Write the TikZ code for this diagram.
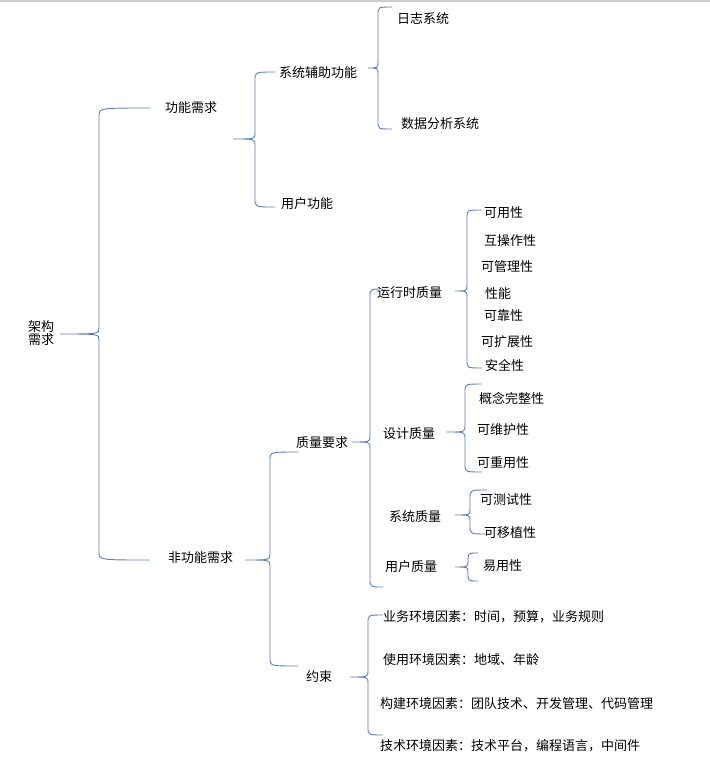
\documentclass[tikz,border=0pt]{standalone}
\usepackage{fontspec}
\setmainfont{Noto Sans CJK SC}
\definecolor{brc}{HTML}{5B7DB8}
\newcommand\mybrace[6]{% xtip ytip xv ytop ybot xend
  \draw[brc,line width=0.9pt] (#6,#4) .. controls (#3,#4) .. (#3,#4+8) -- (#3,#2-6) .. controls (#3,#2) .. (#1,#2) .. controls (#3,#2) .. (#3,#2+6) -- (#3,#5-8) .. controls (#3,#5) .. (#6,#5);}
\begin{document}
\begin{tikzpicture}[x=1pt,y=-1pt,
  lbl/.style={anchor=west,inner sep=0pt,font=\fontsize{13}{16}\selectfont}]
\useasboundingbox (0,0) rectangle (710,761);
\fill[white] (0,0) rectangle (710,761);
\draw[gray!40,line width=1.5pt] (0,1) -- (710,1);
\mybrace{60}{334}{99}{108}{560}{150}
\mybrace{233}{139}{255}{72}{207}{275}
\mybrace{368}{68}{378}{7}{129}{392}
\mybrace{245}{560}{270}{452}{666}{298}
\mybrace{352}{442}{370}{289}{587}{383}
\mybrace{455}{291}{467}{210}{368}{482}
\mybrace{446}{432}{465}{384}{472}{482}
\mybrace{455}{515}{470}{490}{534}{487}
\mybrace{455}{567}{468}{553}{581}{478}
\mybrace{350}{677}{368}{615}{735}{383}
\node[lbl,align=left] (root) at (28,333) {架构\\[-3pt]需求};
\node[lbl] (gn) at (165,108) {功能需求};
\node[lbl] (fz) at (279,73) {系统辅助功能};
\node[lbl] (rz) at (397,19) {日志系统};
\node[lbl] (sj) at (401,124) {数据分析系统};
\node[lbl] (yh) at (281,204) {用户功能};
\node[lbl] (fg) at (168,558) {非功能需求};
\node[lbl] (zl) at (296,443) {质量要求};
\node[lbl] (ys) at (306,677) {约束};
\node[lbl] (yx) at (377,293) {运行时质量};
\node[lbl] (a1) at (484,213) {可用性};
\node[lbl] (a2) at (484,241) {互操作性};
\node[lbl] (a3) at (481,267) {可管理性};
\node[lbl] (a4) at (485,294) {性能};
\node[lbl] (a5) at (484,316) {可靠性};
\node[lbl] (a6) at (481,342) {可扩展性};
\node[lbl] (a7) at (485,365) {安全性};
\node[lbl] (sjz) at (383,434) {设计质量};
\node[lbl] (b1) at (479,398) {概念完整性};
\node[lbl] (b2) at (477,430) {可维护性};
\node[lbl] (b3) at (477,463) {可重用性};
\node[lbl] (xt) at (389,517) {系统质量};
\node[lbl] (c1) at (480,500) {可测试性};
\node[lbl] (c2) at (484,533) {可移植性};
\node[lbl] (yz) at (385,567) {用户质量};
\node[lbl] (d1) at (483,566) {易用性};
\node[lbl] (e1) at (383,617) {业务环境因素：时间，预算，业务规则};
\node[lbl] (e2) at (383,660) {使用环境因素：地域、年龄};
\node[lbl] (e3) at (380,704) {构建环境因素：团队技术、开发管理、代码管理};
\node[lbl] (e4) at (380,746) {技术环境因素：技术平台，编程语言，中间件};
\end{tikzpicture}
\end{document}
